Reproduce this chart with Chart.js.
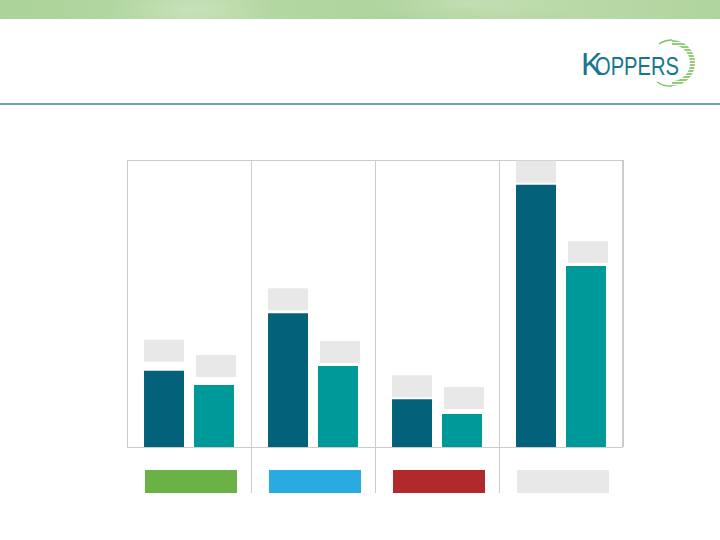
<!DOCTYPE html>
<html lang="en">
<head>
    <meta charset="UTF-8">
    <title>Koppers</title>
    <script src="https://cdn.jsdelivr.net/npm/chart.js"></script>
    <style>
        html, body { margin: 0; padding: 0; background: #ffffff; }
        #page { position: relative; width: 720px; height: 540px; overflow: hidden; font-family: "Liberation Sans", Arial, sans-serif; }
        #band {
            position: absolute; left: 0; top: 0; width: 720px; height: 19px;
            background:
                radial-gradient(ellipse 120px 40px at 190px 10px, rgba(255,255,255,0.25), rgba(255,255,255,0) 70%),
                radial-gradient(ellipse 160px 30px at 470px 4px, rgba(255,255,255,0.2), rgba(255,255,255,0) 70%),
                linear-gradient(90deg, #acd39a 0%, #b6d9a4 30%, #aed39c 55%, #b9daa7 80%, #b0d49e 100%);
        }
        #rule { position: absolute; left: 0; top: 103px; width: 720px; height: 2px; background: #6aa3b3; }
        #logo { position: absolute; left: 575px; top: 36px; }
        #chartBox { position: absolute; left: 0; top: 0; width: 720px; height: 540px; }
    </style>
</head>
<body>
<div id="page">
    <div id="band"></div>
    <svg id="logo" width="135" height="56" viewBox="0 0 135 56">
        <defs>
            <clipPath id="ringClip">
                <path d="M97 4 A23 23 0 0 1 97 50 A23 23 0 0 1 97 4 Z M97 9 A18 18 0 0 0 97 45 A18 18 0 0 0 97 9 Z" clip-rule="evenodd"/>
            </clipPath>
        </defs>
        <path d="M84 8 A23 23 0 0 1 97 4" fill="none" stroke="#7cc15a" stroke-width="1.4"/>
        <path d="M82 46 A23 23 0 0 0 97 50" fill="none" stroke="#7cc15a" stroke-width="1.4"/>
        <g clip-path="url(#ringClip)" stroke="#6cbb4a" stroke-width="1.3">
            <line x1="97" y1="5" x2="122" y2="5"/><line x1="97" y1="8" x2="122" y2="8"/>
            <line x1="97" y1="11" x2="122" y2="11"/><line x1="97" y1="14" x2="122" y2="14"/>
            <line x1="97" y1="17" x2="122" y2="17"/><line x1="97" y1="20" x2="122" y2="20"/>
            <line x1="97" y1="23" x2="122" y2="23"/><line x1="97" y1="26" x2="122" y2="26"/>
            <line x1="97" y1="29" x2="122" y2="29"/><line x1="97" y1="32" x2="122" y2="32"/>
            <line x1="97" y1="35" x2="122" y2="35"/><line x1="97" y1="38" x2="122" y2="38"/>
            <line x1="97" y1="41" x2="122" y2="41"/><line x1="97" y1="44" x2="122" y2="44"/>
            <line x1="97" y1="47" x2="122" y2="47"/><line x1="97" y1="50" x2="122" y2="50"/>
        </g>
        <text x="6" y="39" fill="#16768f" font-family="'Liberation Sans Narrow', 'Liberation Sans', Arial, sans-serif" font-size="32">K</text>
        <text x="20" y="39" fill="#16768f" font-family="'Liberation Sans Narrow', 'Liberation Sans', Arial, sans-serif" font-size="25" textLength="84" lengthAdjust="spacingAndGlyphs">OPPERS</text>
    </svg>
    <div id="rule"></div>
    <div id="chartBox"><canvas id="chart"></canvas></div>
</div>
<script>
    // four groups, two periods each (labels are blank boxes in the original)
    const categories = ['A', 'B', 'C', 'D'];
    const darkValues = [76.3, 133.7, 47.7, 262.3];
    const tealValues = [62, 81, 33, 181];
    const yMax = 287;

    const darkColor = '#03617a';
    const tealColor = '#009999';
    const groupColors = ['#6ab245', '#29abe2', '#b0292c', '#e8e8e8'];
    const gridColor = '#cccccc';

    // gray blank label boxes above every bar
    const labelBoxes = {
        id: 'labelBoxes',
        afterDatasetsDraw(chart, args, opts) {
            const ctx = chart.ctx;
            ctx.save();
            ctx.fillStyle = '#e8e8e8';
            chart.data.datasets.forEach((ds, di) => {
                const meta = chart.getDatasetMeta(di);
                meta.data.forEach((bar, i) => {
                    const gap = opts.gaps[di][i];
                    const w = bar.width;
                    ctx.fillRect(bar.x - w / 2 + (di === 1 ? 2 : 0), bar.y - gap - 22, w, 22);
                });
            });
            ctx.restore();
        }
    };

    // frame round the plot area and colored category boxes under it
    const frameAndKeys = {
        id: 'frameAndKeys',
        beforeDatasetsDraw(chart) {
            const { ctx, chartArea: a } = chart;
            ctx.save();
            ctx.strokeStyle = gridColor;
            ctx.lineWidth = 1;
            ctx.strokeRect(a.left + 0.5, a.top + 0.5, a.right - a.left - 1, a.bottom - a.top);
            ctx.restore();
        },
        afterDraw(chart) {
            const { ctx, chartArea: a, scales: { x } } = chart;
            ctx.save();
            categories.forEach((c, i) => {
                const cx = x.getPixelForValue(i);
                ctx.fillStyle = groupColors[i];
                ctx.fillRect(cx - 44, a.bottom + 23, 92, 23);
            });
            ctx.restore();
        }
    };

    new Chart(document.getElementById('chart'), {
        type: 'bar',
        data: {
            labels: categories,
            datasets: [
                { label: 'Period 1', data: darkValues, backgroundColor: darkColor },
                { label: 'Period 2', data: tealValues, backgroundColor: tealColor }
            ]
        },
        options: {
            responsive: true,
            maintainAspectRatio: false,
            animation: false,
            categoryPercentage: 0.806,
            barPercentage: 0.8,
            layout: { padding: { left: 127, top: 160, right: 97, bottom: 47 } },
            scales: {
                x: {
                    offset: true,
                    grid: {
                        offset: true,
                        color: gridColor,
                        lineWidth: 1,
                        tickLength: 46,
                        tickColor: ctx => (ctx.index > 0 && ctx.index < categories.length) ? gridColor : 'rgba(0,0,0,0)'
                    },
                    border: { display: false },
                    ticks: { display: false }
                },
                y: {
                    display: false,
                    min: 0,
                    max: yMax
                }
            },
            plugins: {
                legend: { display: false },
                tooltip: { enabled: false },
                labelBoxes: { gaps: [[9, 3, 2, 2], [8, 3, 5, 3]] }
            }
        },
        plugins: [labelBoxes, frameAndKeys]
    });
</script>
</body>
</html>
